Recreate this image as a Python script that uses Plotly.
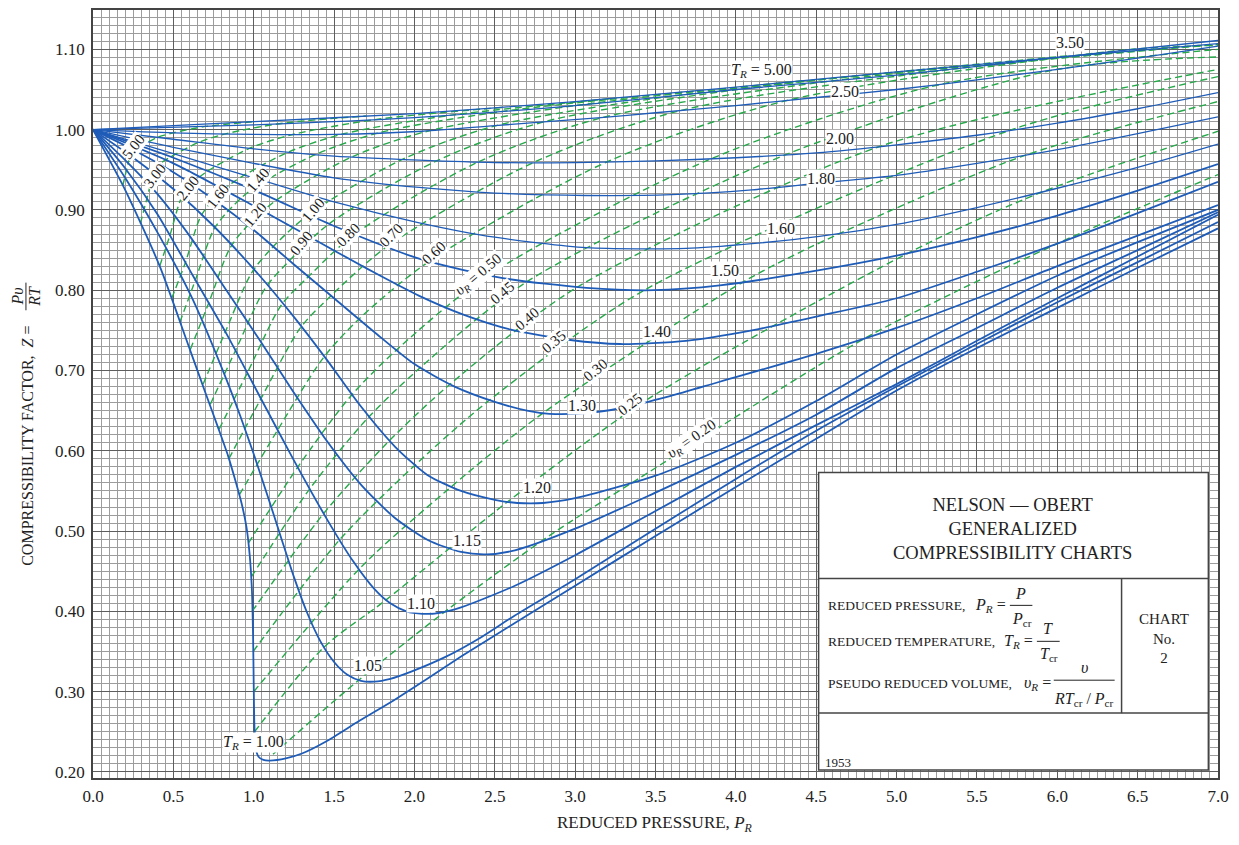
import plotly.graph_objects as go

# ---------------- data: reduced-temperature curves (P_R, Z) ----------------
T_LABELS = ["1.00", "1.05", "1.10", "1.15", "1.20", "1.30", "1.40", "1.50",
            "1.60", "1.80", "2.00", "2.50", "3.50", "5.00"]

T100_P = [0, 0.1, 0.2, 0.415, 0.58, 0.70, 0.78, 0.84, 0.88, 0.924, 0.955, 0.975, 0.988, 0.996, 1.0,
          1.004, 1.012, 1.03, 1.06, 1.1, 1.2, 1.3, 1.45, 1.66, 1.87, 2.08, 2.3, 2.62, 3.0, 3.5, 4.0,
          4.5, 5.0, 5.5, 6.0, 6.5, 7.0]
T100_Z = [1.0, 0.963, 0.925, 0.83, 0.739, 0.672, 0.628, 0.594, 0.567, 0.535, 0.505, 0.47, 0.43,
          0.37, 0.31, 0.26, 0.23, 0.219, 0.215, 0.2142, 0.217, 0.223, 0.238, 0.264, 0.289, 0.316,
          0.345, 0.385, 0.432, 0.494, 0.555, 0.615, 0.675, 0.728, 0.778, 0.828, 0.877]

T105_P = [0, 0.2, 0.415, 0.622, 0.83, 0.917, 1.0, 1.083, 1.167, 1.25, 1.333, 1.417, 1.5, 1.583, 1.667,
          1.75, 1.85, 1.98, 2.19, 2.4, 2.625, 3.0, 3.5, 4.0, 4.5, 5.0, 5.5, 6.0, 6.5, 7.0]
T105_Z = [1.0, 0.94, 0.867, 0.788, 0.689, 0.643, 0.596, 0.546, 0.494, 0.443, 0.398, 0.362, 0.337,
          0.321, 0.3135, 0.3125, 0.316, 0.325, 0.343, 0.366, 0.395, 0.44, 0.503, 0.565, 0.625, 0.68,
          0.733, 0.785, 0.835, 0.885]

T110_P = [0, 0.2, 0.4, 0.622, 0.83, 1.037, 1.245, 1.458, 1.62, 1.75, 1.85, 1.95, 2.05, 2.15, 2.29,
          2.625, 3.0, 3.5, 4.0, 4.5, 5.0, 5.5, 6.0, 6.5, 7.0]
T110_Z = [1.0, 0.952, 0.895, 0.818, 0.746, 0.668, 0.59, 0.514, 0.462, 0.428, 0.41, 0.40, 0.397,
          0.398, 0.405, 0.432, 0.47, 0.525, 0.58, 0.632, 0.683, 0.737, 0.79, 0.842, 0.894]

T115_P = [0, 0.2, 0.4, 0.6, 0.83, 1.037, 1.245, 1.46, 1.667, 1.875, 2.083, 2.29, 2.45, 2.625, 3.0,
          3.5, 4.0, 4.5, 5.0, 5.5, 6.0, 6.5, 7.0]
T115_Z = [1.0, 0.962, 0.92, 0.868, 0.80, 0.738, 0.674, 0.611, 0.558, 0.517, 0.489, 0.474, 0.471,
          0.476, 0.503, 0.548, 0.595, 0.645, 0.703, 0.753, 0.803, 0.85, 0.897]

T120_P = [0, 0.25, 0.5, 0.75, 1.037, 1.245, 1.46, 1.66, 1.88, 2.08, 2.29, 2.5, 2.64, 2.8, 3.0, 3.5,
          4.0, 4.5, 5.0, 5.5, 6.0, 6.5, 7.0]
T120_Z = [1.0, 0.965, 0.926, 0.88, 0.818, 0.768, 0.712, 0.657, 0.605, 0.57, 0.55, 0.539, 0.535,
          0.535, 0.541, 0.569, 0.61, 0.662, 0.72, 0.77, 0.818, 0.86, 0.90]

T130_P = [0, 0.25, 0.5, 0.75, 1.0, 1.245, 1.5, 1.75, 2.0, 2.25, 2.5, 2.7, 2.84, 3.07, 3.28, 3.59,
          3.9, 4.52, 5.0, 5.5, 6.0, 6.5, 7.0]
T130_Z = [1.0, 0.975, 0.947, 0.913, 0.875, 0.833, 0.79, 0.748, 0.708, 0.68, 0.661, 0.65, 0.646,
          0.647, 0.653, 0.668, 0.686, 0.722, 0.753, 0.79, 0.83, 0.868, 0.906]

T140_P = [0, 0.5, 1.0, 1.45, 1.75, 2.03, 2.3, 2.6, 2.97, 3.28, 3.69, 4.1, 4.52, 5.0, 5.5, 6.0, 6.5,
          7.0]
T140_Z = [1.0, 0.958, 0.905, 0.855, 0.822, 0.793, 0.77, 0.751, 0.738, 0.733, 0.737, 0.75, 0.768,
          0.79, 0.823, 0.858, 0.896, 0.935]

T150_P = [0, 0.5, 1.0, 1.5, 2.05, 2.55, 3.07, 3.49, 3.9, 4.52, 5.0, 5.5, 6.0, 6.5, 7.0]
T150_Z = [1.0, 0.965, 0.925, 0.88, 0.838, 0.815, 0.803, 0.80, 0.806, 0.825, 0.843, 0.866, 0.893,
          0.924, 0.957]

T160_P = [0, 0.5, 1.0, 1.5, 2.03, 2.5, 3.07, 3.69, 4.1, 4.52, 5.0, 5.5, 6.0, 6.5, 7.0]
T160_Z = [1.0, 0.97, 0.94, 0.91, 0.884, 0.866, 0.853, 0.852, 0.858, 0.867, 0.882, 0.903, 0.927,
          0.953, 0.982]

T180_P = [0, 0.5, 1.0, 1.5, 2.03, 2.5, 3.07, 3.6, 4.1, 4.5, 5.0, 5.5, 6.0, 6.5, 7.0]
T180_Z = [1.0, 0.978, 0.958, 0.94, 0.928, 0.921, 0.918, 0.919, 0.925, 0.933, 0.943, 0.958, 0.975,
          0.995, 1.016]

T200_P = [0, 0.5, 1.0, 1.5, 2.03, 2.5, 3.0, 3.5, 4.0, 4.5, 5.0, 5.5, 6.0, 6.5, 7.0]
T200_Z = [1.0, 0.988, 0.976, 0.967, 0.962, 0.959, 0.959, 0.961, 0.965, 0.971, 0.981, 0.993, 1.008,
          1.026, 1.046]

T250_P = [0, 0.5, 1.0, 1.5, 2.05, 2.5, 3.16, 3.5, 4.0, 4.5, 5.0, 5.5, 6.0, 6.5, 7.0]
T250_Z = [1.0, 0.996, 0.994, 0.994, 0.998, 1.005, 1.015, 1.021, 1.03, 1.04, 1.05, 1.062, 1.075,
          1.089, 1.104]

T350_P = [0, 1, 2, 3, 4, 5, 6, 7]
T350_Z = [1.0, 1.006, 1.015, 1.03, 1.05, 1.068, 1.09, 1.111]

T500_P = [0, 1, 2, 3, 4, 5, 6, 7]
T500_Z = [1.0, 1.01, 1.02, 1.035, 1.053, 1.072, 1.09, 1.107]

# ---------------- data: pseudo-reduced-volume lines (P_R, Z) ----------------
V_LABELS = ["5.00", "3.00", "2.00", "1.60", "1.40", "1.20", "1.00", "0.90", "0.80", "0.70",
            "0.60", "0.50", "0.45", "0.40", "0.35", "0.30", "0.25", "0.20"]

V500_P = [0.185, 0.209, 0.232, 0.254, 0.294, 0.396, 0.498, 0.703, 1.01]
V500_Z = [0.93, 0.95, 0.967, 0.975, 0.979, 0.99, 0.996, 1.004, 1.01]
V300_P = [0.295, 0.335, 0.378, 0.415, 0.483, 0.656, 0.83, 1.18, 1.70]
V300_Z = [0.883, 0.914, 0.945, 0.957, 0.966, 0.984, 0.995, 1.008, 1.017]
V200_P = [0.415, 0.478, 0.55, 0.606, 0.711, 0.977, 1.243, 1.774, 2.57]
V200_Z = [0.83, 0.868, 0.915, 0.931, 0.948, 0.977, 0.994, 1.013, 1.028]
V160_P = [0.49, 0.574, 0.668, 0.74, 0.876, 1.215, 1.554, 2.23, 3.25]
V160_Z = [0.79, 0.834, 0.891, 0.911, 0.935, 0.972, 0.9945, 1.018, 1.039]
V140_P = [0.54, 0.636, 0.75, 0.833, 0.99, 1.385, 1.778, 2.56, 3.745]
V140_Z = [0.76, 0.812, 0.875, 0.897, 0.926, 0.969, 0.996, 1.023, 1.048]
V120_P = [0.605, 0.72, 0.851, 0.951, 1.14, 1.61, 2.08, 3.0, 4.42]
V120_Z = [0.726, 0.784, 0.852, 0.878, 0.912, 0.966, 0.998, 1.03, 1.061]
V100_P = [0.685, 0.825, 0.985, 1.106, 1.34, 1.925, 2.51, 3.65, 5.4]
V100_Z = [0.683, 0.749, 0.821, 0.851, 0.894, 0.963, 1.005, 1.043, 1.079]
V090_P = [0.73, 0.887, 1.07, 1.204, 1.471, 2.137, 2.805, 4.09, 6.07]
V090_Z = [0.658, 0.725, 0.802, 0.833, 0.883, 0.961, 1.0097, 1.052, 1.092]
V080_P = [0.785, 0.96, 1.17, 1.323, 1.63, 2.4, 3.17, 4.65, 6.9]
V080_Z = [0.627, 0.697, 0.781, 0.8135, 0.87, 0.96, 1.015, 1.062, 1.105]
V070_P = [0.845, 1.045, 1.29, 1.47, 1.827, 2.74, 3.66, 5.38, 7.0]
V070_Z = [0.59, 0.665, 0.753, 0.791, 0.854, 0.959, 1.024, 1.076, 1.106]
V060_P = [0.91, 1.149, 1.432, 1.657, 2.085, 3.2, 4.32, 6.41, 7.0]
V060_Z = [0.545, 0.626, 0.7155, 0.7645, 0.835, 0.96, 1.0364, 1.099, 1.105]
V050_P = [0.967, 1.275, 1.603, 1.885, 2.455, 3.85, 5.28, 7.0]
V050_Z = [0.485, 0.58, 0.668, 0.725, 0.818, 0.964, 1.0567, 1.10]
V045_P = [0.985, 1.35, 1.706, 2.03, 2.703, 4.3, 5.97, 7.0]
V045_Z = [0.443, 0.553, 0.64, 0.7025, 0.811, 0.968, 1.074, 1.0905]
V040_P = [0.99, 1.434, 1.825, 2.216, 3.015, 4.895, 7.0]
V040_Z = [0.40, 0.5216, 0.6087, 0.682, 0.804, 0.979, 1.075]
V035_P = [0.996, 1.54, 1.981, 2.46, 3.43, 5.71, 7.0]
V035_Z = [0.35, 0.4904, 0.578, 0.662, 0.80, 0.9995, 1.066]
V030_P = [1.0, 1.667, 2.21, 2.8, 4.06, 4.65, 5.8, 7.0]
V030_Z = [0.30, 0.455, 0.552, 0.647, 0.812, 0.871, 0.968, 1.035]
V025_P = [1.005, 1.435, 1.815, 2.57, 3.45, 5.08, 5.9, 7.0]
V025_Z = [0.25, 0.355, 0.413, 0.535, 0.664, 0.847, 0.922, 0.998]
V020_P = [1.12, 1.645, 2.225, 2.845, 3.4, 4.81, 6.0, 7.0]
V020_Z = [0.222, 0.313, 0.405, 0.495, 0.566, 0.741, 0.858, 0.944]

# tick labels
X_TICKS = [0.0, 0.5, 1.0, 1.5, 2.0, 2.5, 3.0, 3.5, 4.0, 4.5, 5.0, 5.5, 6.0, 6.5, 7.0]
Y_TICKS = [0.20, 0.30, 0.40, 0.50, 0.60, 0.70, 0.80, 0.90, 1.00, 1.10]

# ---------------- style ----------------
SERIF = "Liberation Serif, Times New Roman, serif"
BLUE = "#1f5cb8"
GREEN = "#27a84a"
INK = "#222222"

T_CURVES = [(T100_P, T100_Z), (T105_P, T105_Z), (T110_P, T110_Z), (T115_P, T115_Z),
            (T120_P, T120_Z), (T130_P, T130_Z), (T140_P, T140_Z), (T150_P, T150_Z),
            (T160_P, T160_Z), (T180_P, T180_Z), (T200_P, T200_Z), (T250_P, T250_Z),
            (T350_P, T350_Z), (T500_P, T500_Z)]
V_CURVES = [(V500_P, V500_Z), (V300_P, V300_Z), (V200_P, V200_Z), (V160_P, V160_Z),
            (V140_P, V140_Z), (V120_P, V120_Z), (V100_P, V100_Z), (V090_P, V090_Z),
            (V080_P, V080_Z), (V070_P, V070_Z), (V060_P, V060_Z), (V050_P, V050_Z),
            (V045_P, V045_Z), (V040_P, V040_Z), (V035_P, V035_Z), (V030_P, V030_Z),
            (V025_P, V025_Z), (V020_P, V020_Z)]

fig = go.Figure()

for lab, (px, pz) in zip(V_LABELS, V_CURVES):
    fig.add_trace(go.Scatter(x=px, y=pz, mode="lines", name="v_R=" + lab,
                             line=dict(color=GREEN, width=1.4, dash="7px,4px",
                                       shape="spline", smoothing=0.8),
                             hoverinfo="skip", showlegend=False))

for lab, (px, pz) in zip(T_LABELS, T_CURVES):
    w = 1.8 if float(lab) <= 1.5 else 1.3
    fig.add_trace(go.Scatter(x=px, y=pz, mode="lines", name="T_R=" + lab,
                             line=dict(color=BLUE, width=w, shape="spline", smoothing=0.7),
                             hoverinfo="skip", showlegend=False))

ann = []
T_LABEL_POS = [("<i>T</i><sub><i>R</i></sub> = 1.00", 1.0, 0.237),
               ("1.05", 1.71, 0.332), ("1.10", 2.04, 0.41), ("1.15", 2.33, 0.488),
               ("1.20", 2.76, 0.554), ("1.30", 3.04, 0.657), ("1.40", 3.51, 0.749),
               ("1.50", 3.935, 0.824), ("1.60", 4.28, 0.877), ("1.80", 4.53, 0.939),
               ("2.00", 4.65, 0.989), ("2.50", 4.68, 1.047), ("3.50", 6.08, 1.108),
               ("<i>T</i><sub><i>R</i></sub> = 5.00", 4.16, 1.074)]
for txt, x, y in T_LABEL_POS:
    ann.append(dict(x=x, y=y, xref="x", yref="y", text=txt, showarrow=False,
                    xanchor="center", yanchor="middle",
                    font=dict(family=SERIF, size=16, color=INK),
                    bgcolor="white", borderpad=0))

V_LABEL_POS = [("5.00", 0.249, 0.979, -52), ("3.00", 0.384, 0.942, -52),
               ("2.00", 0.592, 0.927, -52), ("1.60", 0.778, 0.917, -52),
               ("1.40", 1.027, 0.937, -50), ("1.20", 1.007, 0.894, -50),
               ("1.00", 1.37, 0.90, -50), ("0.90", 1.297, 0.859, -50),
               ("0.80", 1.588, 0.869, -45), ("0.70", 1.857, 0.869, -45),
               ("0.60", 2.119, 0.846, -42),
               ("<i>υ</i><sub><i>R</i></sub> = 0.50", 2.40, 0.819, -40),
               ("0.45", 2.545, 0.797, -40), ("0.40", 2.70, 0.764, -40),
               ("0.35", 2.866, 0.735, -40), ("0.30", 3.126, 0.701, -40),
               ("0.25", 3.344, 0.658, -38),
               ("<i>υ</i><sub><i>R</i></sub> = 0.20", 3.73, 0.615, -35)]
for txt, x, y, a in V_LABEL_POS:
    ann.append(dict(x=x, y=y, xref="x", yref="y", text=txt, showarrow=False, textangle=a,
                    xanchor="center", yanchor="middle",
                    font=dict(family=SERIF, size=15, color=INK),
                    bgcolor="white", borderpad=0))

# title block
BOX_X0, BOX_X1, BOX_Y0, BOX_Y1 = 4.515, 6.94, 0.2025, 0.573
ROW_Y1, ROW_Y2, COL_X = 0.441, 0.2733, 6.40
EDGE = dict(color="#444", width=1.5)
shapes = [
    dict(type="rect", xref="x", yref="y", x0=BOX_X0, x1=BOX_X1, y0=BOX_Y0, y1=BOX_Y1,
         fillcolor="white", line=EDGE, layer="above"),
    dict(type="line", xref="x", yref="y", x0=BOX_X0, x1=BOX_X1, y0=ROW_Y1, y1=ROW_Y1,
         line=EDGE, layer="above"),
    dict(type="line", xref="x", yref="y", x0=BOX_X0, x1=BOX_X1, y0=ROW_Y2, y1=ROW_Y2,
         line=EDGE, layer="above"),
    dict(type="line", xref="x", yref="y", x0=COL_X, x1=COL_X, y0=ROW_Y2, y1=ROW_Y1,
         line=EDGE, layer="above"),
    dict(type="line", xref="x", yref="y", x0=5.705, x1=5.845, y0=0.4075, y1=0.4075,
         line=dict(color=INK, width=1), layer="above"),
    dict(type="line", xref="x", yref="y", x0=5.873, x1=6.015, y0=0.3627, y1=0.3627,
         line=dict(color=INK, width=1), layer="above"),
    dict(type="line", xref="x", yref="y", x0=5.978, x1=6.357, y0=0.3143, y1=0.3143,
         line=dict(color=INK, width=1), layer="above"),
    # y-title fraction bar (vertical, because the title is rotated)
    dict(type="line", xref="paper", yref="paper", x0=-0.0596, x1=-0.0596, y0=0.609, y1=0.645,
         line=dict(color=INK, width=1)),
]

def box_text(txt, x, y, size, xa="center", ya="middle", align="center"):
    ann.append(dict(x=x, y=y, xref="x", yref="y", text=txt, showarrow=False,
                    xanchor=xa, yanchor=ya, align=align,
                    font=dict(family=SERIF, size=size, color=INK)))

box_text("NELSON — OBERT<br>GENERALIZED<br>COMPRESSIBILITY CHARTS", 5.722, 0.503, 18.5)
box_text("REDUCED PRESSURE,", 4.558, 0.4075, 13.5, xa="left")
box_text("<i>P</i><sub><i>R</i></sub> =", 5.695, 0.4075, 16, xa="right")
box_text("<i>P</i>", 5.772, 0.4224, 16)
box_text("<i>P</i><sub>cr</sub>", 5.78, 0.3905, 16)
box_text("REDUCED TEMPERATURE,", 4.558, 0.3627, 13.5, xa="left")
box_text("<i>T</i><sub><i>R</i></sub> =", 5.862, 0.3627, 16, xa="right")
box_text("<i>T</i>", 5.945, 0.3789, 16)
box_text("<i>T</i><sub>cr</sub>", 5.95, 0.3458, 16)
box_text("PSEUDO REDUCED VOLUME,", 4.558, 0.3106, 13.5, xa="left")
box_text("<i>υ</i><sub><i>R</i></sub> =", 5.972, 0.3106, 16, xa="right")
box_text("<i>υ</i>", 6.171, 0.3304, 16)
box_text("<i>RT</i><sub>cr</sub> / <i>P</i><sub>cr</sub>", 6.168, 0.2905, 16)
box_text("CHART<br>No.<br>2", 6.663, 0.3665, 15)
box_text("1953", 4.545, 0.2124, 13, xa="left")

# axis titles (paper-referenced: anchors set explicitly)
def paper_text(txt, x, y, size, angle=0):
    ann.append(dict(x=x, y=y, xref="paper", yref="paper", showarrow=False,
                    xanchor="center", yanchor="middle", textangle=angle, text=txt,
                    font=dict(family=SERIF, size=size, color=INK)))

paper_text("REDUCED PRESSURE, <i>P</i><sub><i>R</i></sub>", 0.4996, -0.0605, 17)
paper_text("COMPRESSIBILITY FACTOR,  <i>Z</i> =", -0.0578, 0.4325, 16, -90)
paper_text("<i>P</i><i>υ</i>", -0.0667, 0.627, 16, -90)
paper_text("<i>RT</i>", -0.0522, 0.627, 16, -90)

# the page body keeps its default 8px margin, so the figure is sized to fit inside it
fig.update_layout(
    width=1223, height=829,
    margin=dict(l=85, r=13, t=0, b=59),
    paper_bgcolor="white", plot_bgcolor="white",
    annotations=ann, shapes=shapes,
    xaxis=dict(range=[0, 7.0], tickvals=X_TICKS, ticktext=[f"{v:.1f}" for v in X_TICKS],
               showgrid=True, gridcolor="#5e5e5e", gridwidth=1.2,
               minor=dict(dtick=0.05, tick0=0, showgrid=True, gridcolor="#9c9c9c", gridwidth=1),
               showline=True, linecolor="#444", linewidth=1.5, mirror=True, zeroline=False,
               ticks="", ticklabelstandoff=2,
               tickfont=dict(family=SERIF, size=17, color=INK)),
    yaxis=dict(range=[0.1925, 1.149], tickvals=Y_TICKS, ticktext=[f"{v:.2f}" for v in Y_TICKS],
               showgrid=True, gridcolor="#5e5e5e", gridwidth=1.2,
               minor=dict(dtick=0.01, tick0=0.2, showgrid=True, gridcolor="#9c9c9c", gridwidth=1),
               showline=True, linecolor="#444", linewidth=1.5, mirror=True, zeroline=False,
               ticks="", ticklabelstandoff=3,
               tickfont=dict(family=SERIF, size=17, color=INK)),
)

fig.write_html("out.html")
